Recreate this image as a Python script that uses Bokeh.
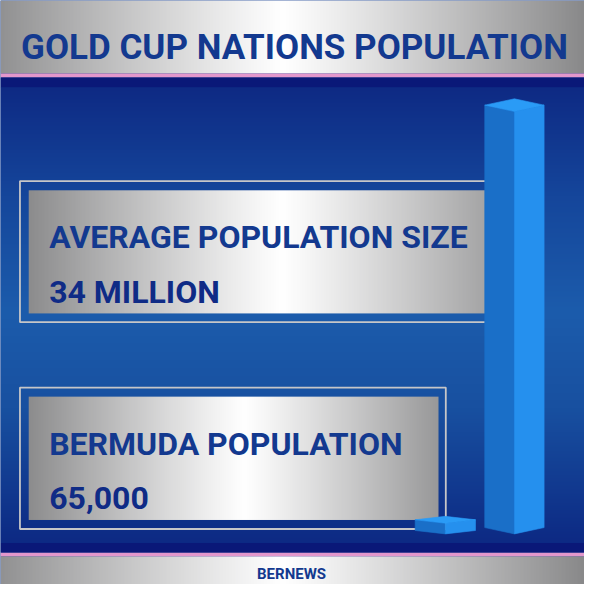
import numpy as np
from bokeh.plotting import figure
from bokeh.models import Range1d
from bokeh.core.properties import value
from bokeh.embed import file_html
from bokeh.resources import INLINE

# ---------------- data ----------------
title_text = "GOLD CUP NATIONS POPULATION"
categories = ["Average Gold Cup nation", "Bermuda"]
population_millions = [34.0, 0.065]
headings = ["AVERAGE POPULATION SIZE", "BERMUDA POPULATION"]
value_labels = ["34 MILLION", "65,000"]
source_text = "BERNEWS"

# ---------------- layout / style (reference pixel units, y measured from top) ----------------
W = H = 584
FONT = "Roboto"


def Y(py):
    return 600.0 - py


def rgba(arr):
    arr = np.asarray(arr, dtype=float)
    rows, cols = arr.shape[:2]
    img = np.empty((rows, cols), dtype=np.uint32)
    v = img.view(dtype=np.uint8).reshape((rows, cols, 4))
    v[..., :3] = np.clip(arr, 0, 255).astype(np.uint8)
    v[..., 3] = 255
    return img


def silver_row(x0, x1, xc, edge=(140, 140, 141), n=400, power=1.1):
    xs = np.linspace(x0, x1, n)
    half = max(xc - x0, x1 - xc)
    t = np.clip(np.abs(xs - xc) / half, 0, 1) ** power
    white = np.array([255, 255, 255], float)
    e = np.array(edge, float)
    cols = white[None, :] * (1 - t[:, None]) + e[None, :] * t[:, None]
    return rgba(cols[None, :, :])


p = figure(width=W, height=H, x_range=Range1d(0, 600), y_range=Range1d(0, 600),
           output_backend="svg", toolbar_location=None, min_border=0)
p.axis.visible = False
p.grid.visible = False
p.outline_line_color = None
p.background_fill_color = "#103a90"
p.border_fill_color = "#103a90"

# blue background, vertical gradient
stops_py = [89, 200, 320, 420, 557]
stops_rgb = [(14, 42, 132), (21, 70, 155), (28, 92, 172), (24, 80, 160), (13, 42, 132)]
py = np.linspace(557, 89, 470)     # bottom row first
bg = np.stack([np.interp(py, stops_py, [c[k] for c in stops_rgb]) for k in range(3)], axis=-1)
p.image_rgba(image=[rgba(bg[:, None, :])], x=0, y=Y(557), dw=600, dh=557 - 89)

# top & bottom silver bands, pink lines, navy bands
p.image_rgba(image=[silver_row(0, 600, 290, edge=(137, 137, 138))], x=0, y=Y(75), dw=600, dh=75)
p.image_rgba(image=[silver_row(0, 600, 290, edge=(137, 137, 138))], x=0, y=Y(600), dw=600, dh=29)
p.quad(left=[0, 0], right=[600, 600], top=[Y(75), Y(567)], bottom=[Y(79), Y(571)],
       fill_color="#e397cc", line_color=None)
p.quad(left=[0, 0], right=[600, 600], top=[Y(79), Y(557)], bottom=[Y(89), Y(567)],
       fill_color="#0a1878", line_color=None)

# panels: (outer box), (inner silver box), gradient centre
panels = [
    dict(outer=(20, 518, 185.5, 330.5), inner=(29, 514, 195, 321.5), xc=290, xe=551),
    dict(outer=(20, 457.5, 397.7, 543), inner=(29, 450, 407, 533.7), xc=250, xe=450),
]
for pn in panels:
    x0, x1, t0, t1 = pn["inner"]
    img = silver_row(x0, pn["xe"], pn["xc"])
    keep = int(round(img.shape[1] * (x1 - x0) / (pn["xe"] - x0)))
    p.image_rgba(image=[np.ascontiguousarray(img[:, :keep])], x=x0, y=Y(t1), dw=x1 - x0, dh=t1 - t0)
    ox0, ox1, ot0, ot1 = pn["outer"]
    p.quad(left=[ox0], right=[ox1], top=[Y(ot0)], bottom=[Y(ot1)], fill_color=None,
           line_color="#c6c6c8", line_width=1.8)

# ---------------- 3D bars on a population scale ----------------
base_y, top_y = Y(548), Y(114)                    # layout y of 0 and of the largest value
upm = (top_y - base_y) / max(population_millions)  # layout units per million
p.extra_y_ranges = {"pop": Range1d(start=-base_y / upm, end=(600 - base_y) / upm)}

bar_cx = [528, 457]
bar_hw = [30.5, 31]
bar_depth = [6.5, 3.5]
min_visible = 11 / upm
left_face, right_face, top_face = ([], []), ([], []), ([], [])
for v, c, w, dpx in zip(population_millions, bar_cx, bar_hw, bar_depth):
    h = max(v, min_visible)
    d = dpx / upm
    left_face[0].append([c - w, c, c, c - w]); left_face[1].append([h + d, h, 0, d])
    right_face[0].append([c, c + w, c + w, c]); right_face[1].append([h, h + d, d, 0])
    top_face[0].append([c - w, c, c + w, c]); top_face[1].append([h + d, h, h + d, h + 2 * d])

p.patches(xs=left_face[0], ys=left_face[1], y_range_name="pop",
          fill_color="#1a6fc8", line_color="#1a6fc8", line_width=0.6)
p.patches(xs=right_face[0], ys=right_face[1], y_range_name="pop",
          fill_color="#2590ee", line_color="#2590ee", line_width=0.6)
p.patches(xs=top_face[0], ys=top_face[1], y_range_name="pop",
          fill_color="#2a9bf6", line_color="#2a9bf6", line_width=0.6)

# ---------------- texts ----------------
TXT = "#13398f"
TXT_DARK = "#0f2b86"
p.text(x=[302], y=[Y(48.8)], text=[title_text], text_font=value(FONT), text_font_style="bold",
       text_font_size="35px", text_color=TXT, text_align="center", text_baseline="alphabetic")
p.text(x=[50, 50], y=[Y(243.2), Y(455.2)], text=headings, text_font=value(FONT), text_font_style="bold",
       text_font_size="32px", text_color=TXT, text_align="left", text_baseline="alphabetic")
p.text(x=[50, 50], y=[Y(299.7), Y(511.4)], text=value_labels, text_font=value(FONT), text_font_style="bold",
       text_font_size="32px", text_color=TXT_DARK, text_align="left", text_baseline="alphabetic")
p.text(x=[299], y=[Y(589.5)], text=[source_text], text_font=value(FONT), text_font_style="bold",
       text_font_size="15px", text_color=TXT, text_align="center", text_baseline="alphabetic")

open("out.html", "w").write(file_html(p, INLINE))
